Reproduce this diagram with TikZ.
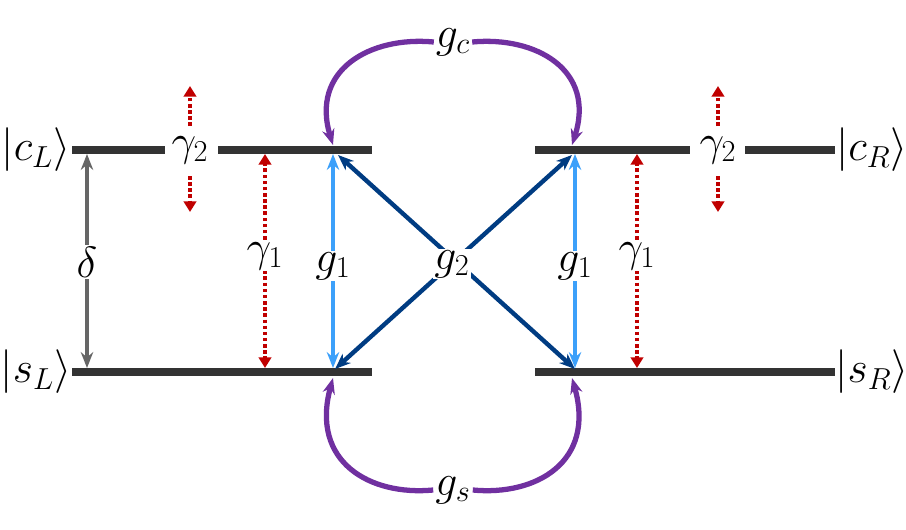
\documentclass[tikz,border=0pt]{standalone}
\usetikzlibrary{arrows.meta}
\begin{document}
\begin{tikzpicture}[x=0.02cm,y=-0.02cm,
 lvl/.style={line width=4.5pt, draw=black!80},
 lab/.style={font=\fontsize{23}{26}\selectfont, inner sep=1pt},
 wlab/.style={lab, fill=white},
 tip/.style={-{Stealth[length=9pt,width=7pt]}},
 dtip/.style={{Stealth[length=9pt,width=7pt]}-{Stealth[length=9pt,width=7pt]}},
 red/.style={draw={rgb,255:red,192;green,0;blue,0}, line width=2.2pt, dash pattern=on 2pt off 1.5pt},
 redtip/.style={-{Triangle[length=6pt,width=7pt]}},
 lb/.style={draw={rgb,255:red,60;green,160;blue,250}, line width=2.5pt},
 db/.style={draw={rgb,255:red,0;green,60;blue,130}, line width=2.5pt},
 pu/.style={draw={rgb,255:red,112;green,48;blue,160}, line width=3pt}]
\useasboundingbox (0,0) rectangle (906,529);
% levels
\draw[lvl] (72,150) -- (165,150); \draw[lvl] (218,150) -- (372,150);
\draw[lvl] (535,150) -- (690,150); \draw[lvl] (745,150) -- (835,150);
\draw[lvl] (72,372) -- (372,372); \draw[lvl] (535,372) -- (835,372);
\node[lab] (cL) at (36,150) {$|c_L\rangle$};
\node[lab] (sL) at (36,372) {$|s_L\rangle$};
\node[lab] (cR) at (872,150) {$|c_R\rangle$};
\node[lab] (sR) at (872,372) {$|s_R\rangle$};
% coordinates
\coordinate (dT) at (87,154); \coordinate (dB) at (87,368);
\coordinate (aT) at (265,154); \coordinate (aB) at (265,368);
\coordinate (bT) at (637,154); \coordinate (bB) at (637,368);
\coordinate (gT) at (333,154); \coordinate (gB) at (333,368);
\coordinate (hT) at (575,154); \coordinate (hB) at (575,368);
% delta
\draw[draw=black!60, line width=2.5pt, dtip] (dT) -- (dB);
\node[wlab] (d) at (87,262) {$\delta$};
% gamma2
\node[lab] (g2L) at (190,150) {$\gamma_2$};
\node[lab] (g2R) at (718,150) {$\gamma_2$};
\coordinate (u1) at (190,86); \coordinate (u2) at (190,212);
\coordinate (u3) at (718,86); \coordinate (u4) at (718,212);
\draw[red,redtip] (190,126) -- (u1); \draw[red,redtip] (190,176) -- (u2);
\draw[red,redtip] (718,126) -- (u3); \draw[red,redtip] (718,176) -- (u4);
% gamma1
\draw[red,redtip] (265,258) -- (aT); \draw[red,redtip] (265,258) -- (aB);
\draw[red,redtip] (637,258) -- (bT); \draw[red,redtip] (637,258) -- (bB);
\node[wlab] (y1L) at (265,256) {$\gamma_1$};
\node[wlab] (y1R) at (637,256) {$\gamma_1$};
% g1
\draw[lb,dtip] (gT) -- (gB); \draw[lb,dtip] (hT) -- (hB);
\node[wlab] (g1L) at (333,266) {$g_1$};
\node[wlab] (g1R) at (575,266) {$g_1$};
% g2
\coordinate (p1) at (338,155); \coordinate (p2) at (335,369);
\coordinate (p3) at (572,155); \coordinate (p4) at (575,369);
\draw[db,dtip] (p1) -- (p4); \draw[db,dtip] (p2) -- (p3);
\node[wlab] (g2) at (452,264) {$g_2$};
% purple
\node[lab] (gc) at (453,42) {$g_c$};
\node[lab] (gs) at (453,490) {$g_s$};
\coordinate (c1) at (333,145); \coordinate (c2) at (572,145);
\coordinate (s1) at (333,378); \coordinate (s2) at (572,378);
\draw[pu,tip] (gc.west) .. controls (370,36) and (310,70) .. (c1);
\draw[pu,tip] (gc.east) .. controls (536,36) and (596,70) .. (c2);
\draw[pu,tip] (gs.west) .. controls (370,496) and (310,462) .. (s1);
\draw[pu,tip] (gs.east) .. controls (536,496) and (596,462) .. (s2);
\end{tikzpicture}
\end{document}
